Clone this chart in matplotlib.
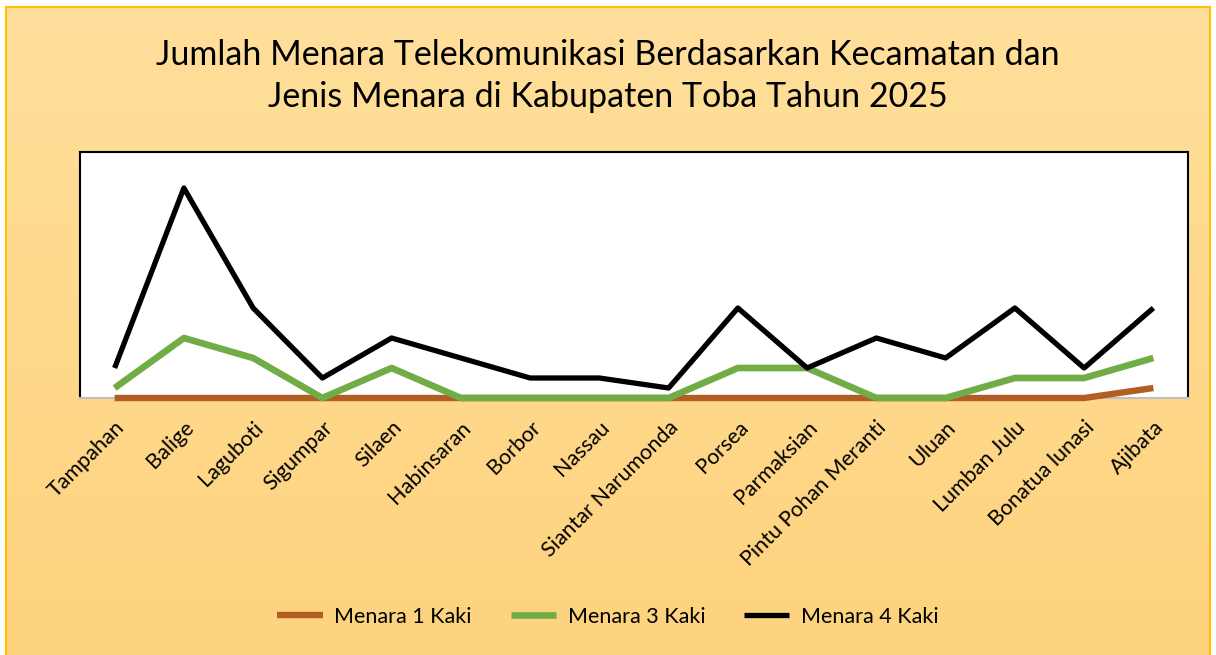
import matplotlib

matplotlib.use("Agg")
import matplotlib.pyplot as plt  # noqa: E402
import numpy as np  # noqa: E402
from matplotlib.patches import Rectangle  # noqa: E402

kecamatan = [
    "Tampahan", "Balige", "Laguboti", "Sigumpar", "Silaen", "Habinsaran",
    "Borbor", "Nassau", "Siantar Narumonda", "Porsea", "Parmaksian",
    "Pintu Pohan Meranti", "Uluan", "Lumban Julu", "Bonatua lunasi", "Ajibata",
]
menara_1 = [0, 0, 0, 0, 0, 0, 0, 0, 0, 0, 0, 0, 0, 0, 0, 1]
menara_3 = [1, 6, 4, 0, 3, 0, 0, 0, 0, 3, 3, 0, 0, 2, 2, 4]
menara_4 = [3, 21, 9, 2, 6, 4, 2, 2, 1, 9, 3, 6, 4, 9, 3, 9]

title = "Jumlah Menara Telekomunikasi Berdasarkan Kecamatan dan\nJenis Menara di Kabupaten Toba Tahun 2025"

plt.rcParams["font.family"] = ["Lato", "DejaVu Sans"]

W, H = 1216, 655
fig = plt.figure(figsize=(W / 100, H / 100), dpi=100)
fig.patch.set_facecolor("white")

# gradient background of the chart area
bg = fig.add_axes([0, 0, 1, 1], zorder=-10)
grad = np.linspace(0, 1, 256).reshape(-1, 1)
top_c = np.array([255, 223, 155]) / 255
bot_c = np.array([254, 211, 126]) / 255
img = top_c[None, None, :] * (1 - grad[:, :, None]) + bot_c[None, None, :] * grad[:, :, None]
bg.imshow(img, aspect="auto", extent=[6 / W, 1210 / W, 0, 1 - 7 / H], transform=bg.transAxes)
bg.set_xlim(0, 1)
bg.set_ylim(0, 1)
bg.axis("off")
fig.patches.append(Rectangle((6 / W, -0.01), 1204 / W, 1 - 7 / H + 0.01, transform=fig.transFigure,
                             fill=False, edgecolor="#FFC000", linewidth=1.5, zorder=-5))

ax = fig.add_axes([80 / W, 1 - 398 / H, (1188 - 80) / W, (398 - 152) / H])
ax.set_facecolor("white")
x = np.arange(len(kecamatan))
ax.plot(x, menara_1, color="#B25D22", lw=4.6, solid_capstyle="butt", clip_on=False, zorder=3,
        label="Menara 1 Kaki")
ax.plot(x, menara_3, color="#70AD47", lw=4.8, solid_capstyle="butt", clip_on=False, zorder=4,
        label="Menara 3 Kaki")
ax.plot(x, menara_4, color="black", lw=3.8, solid_capstyle="butt", clip_on=False, zorder=5,
        label="Menara 4 Kaki")

ax.set_xlim(-0.5, len(kecamatan) - 0.5)
ax.set_ylim(0, 24.6)
ax.set_yticks([])
ax.set_xticks(x)
ax.set_xticklabels(kecamatan, rotation=45, ha="right", rotation_mode="anchor", fontsize=15.5)
ax.tick_params(axis="x", length=0, pad=14)
for s in ["left", "top", "right"]:
    ax.spines[s].set_color("black")
    ax.spines[s].set_linewidth(1.5)
ax.spines["bottom"].set_color("#BFBFBF")
ax.spines["bottom"].set_linewidth(1.5)

fig.text(0.5, 1 - 76 / H, title, ha="center", va="center", fontsize=24.5, linespacing=1.35)

fig.legend(loc="center", bbox_to_anchor=(0.5, 1 - 617 / H), ncol=3, frameon=False, fontsize=15.5,
           handlelength=2.1, columnspacing=1.8, handletextpad=0.55)

fig.savefig("out.png", dpi=100)
